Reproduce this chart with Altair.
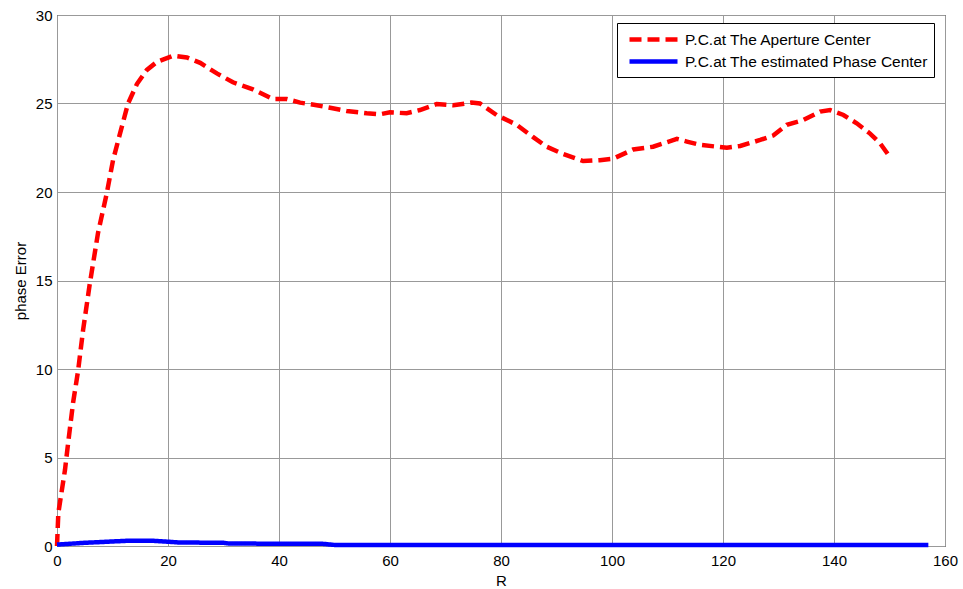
import altair as alt
import pandas as pd

# Series 1: P.C. at The Aperture Center (red dashed)
red_r = [0, 0.24, 1.44, 2.0, 2.9, 3.8, 4.7, 5.9, 7.4, 8.95, 10.1, 11.35, 12.8, 14.4,
         16.2, 18.0, 20.9, 23.4, 25.8, 28.8, 31.7, 35.3, 38.9, 41.4, 43.8, 46.8, 49.2,
         52.2, 55.8, 58.2, 60.0, 63.0, 65.4, 68.4, 71.4, 74.7, 76.2, 79.2, 82.8, 85.8,
         88.2, 91.2, 94.8, 97.8, 100.2, 103.8, 107.4, 111.7, 113.5, 115.9, 120.7, 123.1,
         126.7, 129.1, 131.5, 134.5, 137.5, 139.3, 141.7, 144.1, 146.5, 148.3, 149.8]
red_err = [0, 1.86, 4.3, 5.8, 8.1, 9.9, 12.2, 14.8, 17.7, 19.9, 21.8, 23.3, 25.0, 26.1,
           26.9, 27.35, 27.7, 27.6, 27.3, 26.7, 26.2, 25.8, 25.25, 25.25, 25.05, 24.9, 24.76,
           24.58, 24.45, 24.39, 24.5, 24.45, 24.63, 24.97, 24.9, 25.05, 25.0, 24.35, 23.8, 23.1,
           22.56, 22.15, 21.75, 21.8, 21.88, 22.4, 22.56, 23.0, 22.85, 22.66, 22.5, 22.6,
           22.94, 23.2, 23.8, 24.07, 24.54, 24.63, 24.35, 23.88, 23.3, 22.75, 22.1]

# Series 2: P.C. at The estimated Phase Center (blue solid)
blue_r = [0, 1, 5, 9, 13, 17, 19.5, 22, 30, 31, 48, 50, 157]
blue_err = [0.08, 0.1, 0.18, 0.24, 0.3, 0.3, 0.25, 0.2, 0.18, 0.14, 0.12, 0.06, 0.05]

series_names = ["P.C.at The Aperture Center", "P.C.at The estimated Phase Center"]
series_colors = ["#FF0000", "#0000FF"]
series_dash = [[12, 6], [1, 0]]

x_ticks = [0, 20, 40, 60, 80, 100, 120, 140, 160]
y_ticks = [0, 5, 10, 15, 20, 25, 30]

df = pd.concat([
    pd.DataFrame({"R": red_r, "err": red_err, "series": series_names[0], "ord": 0}),
    pd.DataFrame({"R": blue_r, "err": blue_err, "series": series_names[1], "ord": 1}),
])

font = "Liberation Sans"

chart = alt.Chart(df).mark_line(strokeWidth=4.5, strokeCap="butt").encode(
    x=alt.X("R:Q", title="R",
            scale=alt.Scale(domain=[0, 160], nice=False, zero=False),
            axis=alt.Axis(values=x_ticks, format="d", grid=True, ticks=False,
                          labelFlush=False, labelOverlap=False,
                          labelPadding=7, titlePadding=5, domain=False)),
    y=alt.Y("err:Q", title="phase Error",
            scale=alt.Scale(domain=[0, 30], nice=False),
            axis=alt.Axis(values=y_ticks, format="d", grid=True, ticks=False,
                          labelFlush=False, labelOverlap=False,
                          labelPadding=5, titlePadding=7, domain=False)),
    color=alt.Color("series:N",
                    scale=alt.Scale(domain=series_names, range=series_colors),
                    legend=alt.Legend(title=None, orient="none", legendX=560, legendY=8,
                                      symbolType="M-0.5,0H5.5", symbolSize=256,
                                      symbolStrokeWidth=4.5,
                                      strokeColor="black", fillColor="white",
                                      padding=6, rowPadding=2, labelOffset=41,
                                      labelFont=font, labelFontSize=15.5,
                                      labelColor="black", labelLimit=400)),
    strokeDash=alt.StrokeDash("series:N",
                              scale=alt.Scale(domain=series_names, range=series_dash),
                              legend=None),
    order="R:Q",
    detail="series:N",
).properties(
    width=888, height=531,
    autosize="none",
    background="white",
    padding={"left": 57, "top": 15, "right": 18, "bottom": 43},
).configure_view(
    stroke="black", strokeWidth=1
).configure_axis(
    gridColor="#999999", gridWidth=1, gridOpacity=1,
    labelFont=font, labelFontSize=15, labelColor="black",
    titleFont=font, titleFontSize=15, titleColor="black", titleFontWeight="normal",
)

chart.save("out.html", embed_options={"renderer": "svg", "actions": False})
